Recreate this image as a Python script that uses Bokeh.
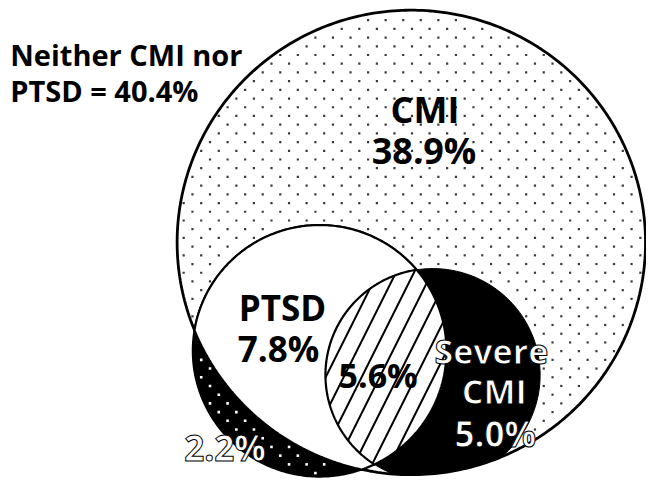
import numpy as np
from bokeh.plotting import figure
from bokeh.models import Range1d, ColumnDataSource
from bokeh.core.properties import value
from bokeh.embed import file_html
from bokeh.resources import INLINE

# ---- data -------------------------------------------------------------
regions = ["Neither CMI nor PTSD", "CMI", "PTSD", "PTSD and severe CMI",
           "Severe CMI", "PTSD and CMI"]
percents = [40.4, 38.9, 7.8, 5.6, 5.0, 2.2]

# ---- layout (reference pixel coordinates, y downwards) ----------------
W, H = 662, 497
CMI_C = (421.0, 250.0, 240.0)
PTSD_C = (327.0, 362.0, 130.0)
SEV_C = (443.0, 387.0, 110.0)
FONT = "Open Sans"


def fy(y):
    return H - np.asarray(y, dtype=float)


def circle_poly(c, n=360):
    x, y, r = c
    t = np.linspace(0, 2 * np.pi, n)
    return x + r * np.cos(t), y + r * np.sin(t)


def inside(c, x, y, pad=0.0):
    return np.hypot(x - c[0], y - c[1]) < c[2] - pad


def lens(c1, c2, n=240):
    x1, y1, r1 = c1
    x2, y2, r2 = c2
    d = np.hypot(x2 - x1, y2 - y1)
    a = (r1 ** 2 - r2 ** 2 + d ** 2) / (2 * d)
    alpha = np.arccos(np.clip(a / r1, -1, 1))
    beta = np.arccos(np.clip((d - a) / r2, -1, 1))
    phi = np.arctan2(y2 - y1, x2 - x1)
    psi = phi + np.pi
    t1 = np.linspace(phi - alpha, phi + alpha, n)
    t2 = np.linspace(psi - beta, psi + beta, n)
    xs = np.concatenate([x1 + r1 * np.cos(t1), x2 + r2 * np.cos(t2)])
    ys = np.concatenate([y1 + r1 * np.sin(t1), y2 + r2 * np.sin(t2)])
    return xs, ys


# stippling texture: staggered grid
gy = np.arange(2.3, 500, 9.0)
tx, ty = [], []
for k, yy in enumerate(gy):
    xx = np.arange(-1.3 + (9.0 if k % 2 else 0.0), 670, 18.0)
    tx.append(xx)
    ty.append(np.full_like(xx, yy))
tx = np.concatenate(tx)
ty = np.concatenate(ty)

p = figure(width=646, height=481, x_range=Range1d(0, W), y_range=Range1d(0, H),
           output_backend="svg", toolbar_location=None, min_border=0,
           x_axis_location=None, y_axis_location=None)
p.grid.visible = False
p.outline_line_color = None
p.background_fill_color = "white"
p.border_fill_color = "white"

# CMI circle (white, stippled)
xs, ys = circle_poly(CMI_C)
p.patch(xs, fy(ys), fill_color="white", line_color="black", line_width=2.8)
m = inside(CMI_C, tx, ty, 3) & ~inside(PTSD_C, tx, ty, -3) & ~inside(SEV_C, tx, ty, -3)
p.scatter(tx[m], fy(ty[m]), marker="square", size=2.2, fill_color="#3a3a3a",
          line_color=None)

# PTSD circle: black with white dots (visible outside CMI)
xs, ys = circle_poly(PTSD_C)
p.patch(xs, fy(ys), fill_color="black", line_color="black", line_width=2)
m = inside(PTSD_C, tx, ty, 3) & ~inside(CMI_C, tx, ty, -3)
p.scatter(tx[m], fy(ty[m]), marker="square", size=2.6, fill_color="white",
          line_color=None)

# PTSD inside CMI: white
xs, ys = lens(CMI_C, PTSD_C)
p.patch(xs, fy(ys), fill_color="white", line_color="black", line_width=2.2)

# Severe CMI (clipped to CMI): black
xs, ys = lens(CMI_C, SEV_C)
p.patch(xs, fy(ys), fill_color="black", line_color="black", line_width=1)

# PTSD and severe CMI: hatched
xs, ys = lens(PTSD_C, SEV_C)
p.patch(xs, fy(ys), fill_color="white", line_color="black", line_width=2.2,
        hatch_pattern="/", hatch_color="black", hatch_scale=36, hatch_weight=2)


def pct(v):
    return f"{v:.1f}%"


# ---- labels -----------------------------------------------------------
plain = ColumnDataSource(dict(
    x=[10, 10, 435, 434, 289, 285, 387],
    y=fy([56, 93, 113, 155, 317, 360, 387]).tolist(),
    t=["Neither CMI nor", f"PTSD = {pct(percents[0])}",
       regions[1], pct(percents[1]), regions[2], pct(percents[2]),
       pct(percents[3])],
    a=["left", "left", "center", "center", "center", "center", "center"],
    s=["29px", "29px", "36px", "36px", "35px", "35px", "34px"],
))
p.text("x", "y", text="t", source=plain, text_align="a", text_font_size="s",
       text_baseline="alphabetic", text_font=value(FONT), text_font_style="bold",
       text_color="black")

white = ColumnDataSource(dict(
    x=[503, 506, 507, 230],
    y=fy([362, 403, 447, 462]).tolist(),
    t=["Severe", "CMI", pct(percents[4]), pct(percents[5])],
    s=["34px", "34px", "35px", "35px"],
))
p.text("x", "y", text="t", source=white, text_align="center", text_font_size="s",
       text_baseline="alphabetic", text_font=value(FONT), text_font_style="bold",
       text_color="white", text_outline_color="black")

open("out.html", "w").write(file_html(p, INLINE))
